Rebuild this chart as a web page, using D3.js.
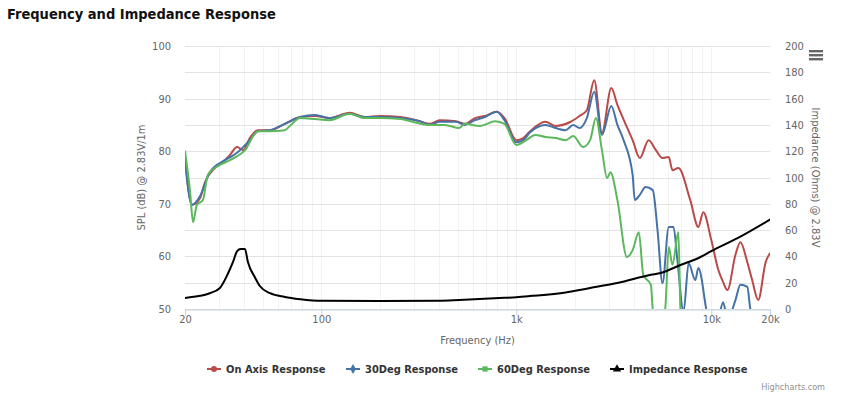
<!DOCTYPE html>
<html><head><meta charset="utf-8">
<script src="https://cdn.jsdelivr.net/npm/d3@7"></script>
<style>
body{margin:0;background:#fff;}
svg{display:block;}
</style></head>
<body>
<script>
// ---- data ----
const title = "Frequency and Impedance Response";
const xTickValues = [20, 100, 1000, 10000, 20000];
const xTickLabels = ["20", "100", "1k", "10k", "20k"];
const leftTicks = [50, 60, 70, 80, 90, 100];
const rightTicks = [0, 20, 40, 60, 80, 100, 120, 140, 160, 180, 200];
const seriesNames = ["On Axis Response", "30Deg Response", "60Deg Response", "Impedance Response"];

const onAxisFreq = [20,21.7,23.9,25.3,28.5,32,34,37,39.7,43,47.3,54.6,65,78,93,110,140,167,200,254,320,360,405,490,545,614,690,795,870,1000,1085,1170,1410,1590,1900,2110,2300,2510,2750,3070,3300,3550,3950,4300,4770,5200,5620,6050,6320,6780,7800,8580,9100,10000,10870,11500,12100,13300,14100,15300,16200,17400,19000,20000];
const onAxisSpl  = [78.7,69.8,71.1,74.1,76.8,78.3,79.3,80.8,80.2,82.5,84,84,85.2,86.5,86.7,86.3,87.3,86.5,86.7,86.5,85.7,85.2,85.9,85.7,85.2,86.3,86.7,87.5,86.3,82.1,82.5,83.7,85.6,84.8,85.6,86.7,87.8,93.5,83.5,92,88.8,86,82.1,78.7,82.1,80.2,78.7,78.9,76.4,76.8,70.7,65.6,68.4,63.1,57.4,55.1,53.6,60.3,62.7,58.9,55.5,51.7,58.9,60.6];

const deg30Freq = [20,21.7,23.9,26.8,32,37,43,47.3,54.6,65,78,93,110,140,167,200,254,320,360,405,490,545,614,690,795,870,1000,1085,1170,1410,1590,1790,1960,2110,2300,2510,2750,3070,3300,3550,3950,4050,4300,4600,5010,5300,5620,6050,6400,6700,7210,7650,8280,8580,9540,10000,10870,11500,12100,13300,14100,15300,15800,16200,17400,20000];
const deg30Spl  = [78.3,69.8,71.5,76,78.3,79.7,82.1,83.8,84,85.2,86.5,86.9,86.3,87.1,86.5,86.5,86.3,85.7,85,85.6,85.6,85,85.9,86.5,87.5,85.9,81.7,82.1,83.5,85,84.4,84,85,84.4,86.3,91.3,83.1,88.6,85,82.1,75.5,70.7,71.7,73.2,72.6,65,54.9,65.6,65.6,59.3,49.5,58.7,55.5,57.8,48.9,46,48,51.3,48,51.7,54.6,54.2,50.4,48,46,46];

const deg60Freq = [20,21.2,22,23,24.7,26.2,29.6,34,40.6,47.3,54.6,65,69,78,93,110,140,167,200,254,360,430,510,545,650,780,870,1000,1125,1250,1410,1590,1790,1960,2200,2390,2560,2750,2920,3040,3300,3690,3950,4250,4480,4900,5010,5300,5800,6050,6320,6780,6950,7300,20000];
const deg60Spl  = [80,72.6,66.5,69.8,70.7,75.5,77.2,78.3,80.2,83.8,83.8,84,84.8,86.3,86.1,85.9,87.1,86.3,86.3,86.1,85,85,84.4,85.2,84.8,85.7,85.2,81.2,82.1,83.1,82.7,82.5,82.1,82.9,80.8,82.1,86.3,80.2,74.9,76,70.7,59.9,61.2,64.6,56.5,54.6,49.8,46,50,61.8,58.4,64.6,49.8,45,45];

const impFreq = [20,23.9,26.8,30.2,33,35.3,37,38.6,40.6,42,45.7,48.4,54.6,65,78,100,200,400,510,870,1000,1170,1790,2110,2390,3300,4900,5500,6950,8600,10000,14100,20000];
const impOhm  = [8.4,10,12,16,26,36,44,45.6,45.6,36,24,17.5,12,9.2,7.5,6.2,6,6.2,6.8,8.5,9,9.8,12.5,14.4,16,19.8,26,27.4,33.5,38.8,44,55,68];

// ---- layout ----
const W = 866, H = 394;
const plot = {l: 185, r: 770, t: 46, b: 309};
const colors = ["#b94a48", "#4572a7", "#5cb85c", "#000000"];
const condensed = "'DejaVu Sans Condensed', 'DejaVu Sans', sans-serif";

const svg = d3.select("body").append("svg").attr("width", W).attr("height", H);

const x = d3.scaleLog().domain([20, 20000]).range([plot.l, plot.r]);
const yL = d3.scaleLinear().domain([50, 100]).range([plot.b, plot.t]);
const yR = d3.scaleLinear().domain([0, 200]).range([plot.b, plot.t]);

// title
svg.append("text").attr("x", 7).attr("y", 19)
  .attr("font-family", condensed).attr("font-weight", "bold").attr("font-size", 14.5)
  .attr("fill", "#111").text(title);

// minor vertical grid
const minor = [];
[10, 100, 1000, 10000].forEach(d => { for (let k = 1; k <= 9; k++) { const v = d * k; if (v > 20 && v < 20000) minor.push(v); } });
svg.append("g").selectAll("line").data(minor).join("line")
  .attr("x1", d => Math.round(x(d)) + 0.5).attr("x2", d => Math.round(x(d)) + 0.5)
  .attr("y1", plot.t).attr("y2", plot.b)
  .attr("stroke", "#f2f2f2").attr("stroke-width", 1);

// horizontal grid (right axis ticks cover left ones)
svg.append("g").selectAll("line").data(rightTicks).join("line")
  .attr("x1", plot.l).attr("x2", plot.r)
  .attr("y1", d => Math.round(yR(d)) + 0.5).attr("y2", d => Math.round(yR(d)) + 0.5)
  .attr("stroke", "#e3e3e3").attr("stroke-width", 1);

// x axis
const xAxis = d3.axisBottom(x).tickValues(xTickValues)
  .tickFormat((d, i) => xTickLabels[i]).tickSize(6).tickSizeOuter(0);
const gx = svg.append("g").attr("transform", `translate(0,${plot.b + 0.5})`).call(xAxis);
gx.select(".domain").attr("stroke", "#c0d0e0");
gx.selectAll(".tick line").attr("stroke", "#c0d0e0");
gx.selectAll(".tick text").attr("font-family", condensed).attr("font-size", 11)
  .attr("fill", "#666").attr("dy", "0.4em");

// left axis
const yAxisL = d3.axisLeft(yL).tickValues(leftTicks).tickSize(0).tickPadding(14);
const gl = svg.append("g").attr("transform", `translate(${plot.l},0)`).call(yAxisL);
gl.select(".domain").remove();
gl.selectAll(".tick text").attr("font-family", condensed).attr("font-size", 11).attr("fill", "#666");

// right axis
const yAxisR = d3.axisRight(yR).tickValues(rightTicks).tickSize(0).tickPadding(15);
const gr = svg.append("g").attr("transform", `translate(${plot.r},0)`).call(yAxisR);
gr.select(".domain").remove();
gr.selectAll(".tick text").attr("font-family", condensed).attr("font-size", 11).attr("fill", "#666");

// axis titles
const midY = (plot.t + plot.b) / 2;
svg.append("text").attr("transform", `translate(145,${midY}) rotate(-90)`)
  .attr("text-anchor", "middle").attr("font-family", condensed).attr("font-size", 11)
  .attr("fill", "#666").text("SPL (dB) @ 2.83V/1m");
svg.append("text").attr("transform", `translate(812,${midY}) rotate(90)`)
  .attr("text-anchor", "middle").attr("font-family", condensed).attr("font-size", 11)
  .attr("fill", "#666").text("Impedance (Ohms) @ 2.83V");
svg.append("text").attr("x", (plot.l + plot.r) / 2).attr("y", 344)
  .attr("text-anchor", "middle").attr("font-family", condensed).attr("font-size", 11)
  .attr("fill", "#666").text("Frequency (Hz)");

// clip
svg.append("clipPath").attr("id", "clip").append("rect")
  .attr("x", plot.l).attr("y", plot.t - 2).attr("width", plot.r - plot.l).attr("height", plot.b - plot.t + 2);

const series = [
  {f: onAxisFreq, v: onAxisSpl, y: yL},
  {f: deg30Freq, v: deg30Spl, y: yL},
  {f: deg60Freq, v: deg60Spl, y: yL},
  {f: impFreq, v: impOhm, y: yR}
];
const gLines = svg.append("g").attr("clip-path", "url(#clip)");
series.forEach((s, i) => {
  const pts = s.f.map((f, j) => [f, s.v[j]]);
  const line = d3.line().x(d => x(d[0])).y(d => s.y(d[1])).curve(d3.curveMonotoneX);
  gLines.append("path").datum(pts).attr("d", line)
    .attr("fill", "none").attr("stroke", colors[i]).attr("stroke-width", 2)
    .attr("stroke-linejoin", "round").attr("stroke-linecap", "round");
});

// legend
const legendX = [207, 346, 478, 610];
const legendY = 369;
const lg = svg.append("g");
seriesNames.forEach((name, i) => {
  const g = lg.append("g").attr("transform", `translate(${legendX[i]},${legendY})`);
  g.append("line").attr("x1", 0).attr("x2", 14).attr("y1", 0).attr("y2", 0)
    .attr("stroke", colors[i]).attr("stroke-width", 2);
  const symType = [d3.symbolCircle, d3.symbolDiamond, d3.symbolSquare, d3.symbolTriangle][i];
  const size = [28, 28, 28, 30][i];
  g.append("path").attr("d", d3.symbol().type(symType).size(size)())
    .attr("transform", "translate(7,0)").attr("fill", colors[i]);
  g.append("text").attr("x", 19).attr("y", 0).attr("dy", "0.35em")
    .attr("font-family", condensed).attr("font-weight", "bold").attr("font-size", 11)
    .attr("fill", "#333").text(name);
});

// credits
svg.append("text").attr("x", 825).attr("y", 390).attr("text-anchor", "end")
  .attr("font-family", condensed).attr("font-size", 9).attr("fill", "#909090").text("Highcharts.com");

// menu icon
[51, 55, 59].forEach(yy => {
  svg.append("rect").attr("x", 809).attr("y", yy - 1).attr("width", 14).attr("height", 2.4)
    .attr("fill", "#666");
});
</script>
</body></html>
